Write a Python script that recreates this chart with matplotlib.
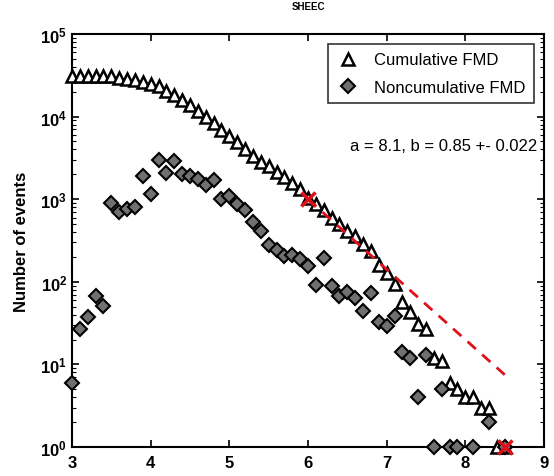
import matplotlib
matplotlib.use("Agg")
import matplotlib.pyplot as plt
from matplotlib.ticker import LogLocator, NullFormatter

plt.rcParams["font.family"] = ["Liberation Sans", "DejaVu Sans"]
plt.rcParams["font.weight"] = "bold"
plt.rcParams["mathtext.fontset"] = "custom"
plt.rcParams["mathtext.rm"] = "Liberation Sans:bold"
plt.rcParams["mathtext.bf"] = "Liberation Sans:bold"
plt.rcParams["mathtext.it"] = "Liberation Sans:bold"

# Dados
mag_cum = [3.0, 3.1, 3.2, 3.3, 3.4, 3.5, 3.6, 3.7, 3.8, 3.9,
           4.0, 4.1, 4.2, 4.3, 4.4, 4.5, 4.6, 4.7, 4.8, 4.9,
           5.0, 5.1, 5.2, 5.3, 5.4, 5.5, 5.6, 5.7, 5.8, 5.9,
           6.0, 6.1, 6.2, 6.3, 6.4, 6.5, 6.6, 6.7, 6.8, 6.9,
           7.0, 7.1, 7.2, 7.3, 7.4, 7.5, 7.6, 7.7, 7.8, 7.9,
           8.0, 8.1, 8.2, 8.3, 8.4, 8.5]
n_cum = [31000, 31000, 30900, 30900, 30800, 30700, 29400, 28500, 27600, 26300,
         24700, 23300, 20400, 18300, 15900, 13800, 11700, 10000, 8400, 6900,
         5800, 4900, 4100, 3300, 2800, 2500, 2140, 1850, 1580, 1330,
         1030, 870, 740, 600, 500, 410, 360, 290, 235, 160,
         128, 94, 57, 43, 31, 27, 12, 11, 6, 5,
         4, 4, 3, 3, 1, 1]

mag_non = [3.0, 3.1, 3.2, 3.3, 3.4, 3.5, 3.6, 3.7, 3.8, 3.9,
           4.0, 4.1, 4.2, 4.3, 4.4, 4.5, 4.6, 4.7, 4.8, 4.9,
           5.0, 5.1, 5.2, 5.3, 5.4, 5.5, 5.6, 5.7, 5.8, 5.9,
           6.0, 6.1, 6.2, 6.3, 6.4, 6.5, 6.6, 6.7, 6.8, 6.9,
           7.0, 7.1, 7.2, 7.3, 7.4, 7.5, 7.6, 7.7, 7.8, 7.9,
           8.1, 8.3, 8.5]
n_non = [6, 27, 37, 67, 51, 900, 700, 760, 810, 1900,
         1150, 2950, 2100, 2900, 2000, 1900, 1750, 1480, 1700, 1000,
         1090, 870, 740, 530, 410, 280, 245, 205, 210, 190,
         155, 91, 195, 89, 67, 75, 63, 44, 73, 33,
         29, 39, 14, 12, 4, 13, 1, 5, 1, 1,
         1, 2, 1]

# Reta do ajuste (extremos) e marcas em vermelho
fit_m = [6.0, 8.5]
fit_n = [1000, 7.5]
marca_m = [6.0, 8.5]
marca_n = [1000, 1]

fig = plt.figure(figsize=(5.54, 4.77), dpi=100)
ax = fig.add_axes([0.130, 0.0608, 0.852, 0.8658])

ax.semilogy(mag_cum, n_cum, linestyle="none", marker="^", markersize=8.5,
            markerfacecolor="white", markeredgecolor="black", markeredgewidth=1.8,
            label="Cumulative FMD", clip_on=False, zorder=3)
ax.semilogy(mag_non, n_non, linestyle="none", marker="D", markersize=7.5,
            markerfacecolor="#707070", markeredgecolor="black", markeredgewidth=1.5,
            label="Noncumulative FMD", clip_on=False, zorder=3)
ax.plot(fit_m, fit_n, color="#e0101a", linestyle=(0, (4, 3)), linewidth=2, zorder=4)
ax.plot(marca_m, marca_n, linestyle="none", marker="x", markersize=10,
        markeredgewidth=2.5, color="#e0101a", clip_on=False, zorder=5)

ax.set_xlim(3, 9)
ax.set_ylim(1, 1e5)
ax.set_xticks([3, 4, 5, 6, 7, 8, 9])
ax.yaxis.set_major_locator(LogLocator(base=10, numticks=10))
ax.yaxis.set_minor_locator(LogLocator(base=10, subs=range(2, 10), numticks=10))
ax.yaxis.set_minor_formatter(NullFormatter())
ax.tick_params(which="both", direction="in", top=True, right=True, labelsize=12)
ax.tick_params(which="major", length=5, width=1.2)
ax.tick_params(which="minor", length=3, width=0.8)
ax.tick_params(axis="x", pad=6)
for s in ax.spines.values():
    s.set_linewidth(1.5)

ax.set_ylabel("Number of events", fontsize=12, fontweight="bold", labelpad=8)
ax.set_title("SHEEC", fontsize=7, fontweight="bold", pad=18)

leg = ax.legend(loc="upper right", fontsize=12, frameon=True, fancybox=False,
                edgecolor="black", borderpad=0.5, handlelength=1.5,
                handletextpad=0.8, borderaxespad=0.6, labelspacing=0.75)
leg.get_frame().set_linewidth(1.2)
for t in leg.get_texts():
    t.set_fontweight("normal")

ax.text(0.985, 0.73, "a = 8.1, b = 0.85 +- 0.022", transform=ax.transAxes,
        ha="right", va="center", fontsize=12, fontweight="normal")

fig.savefig("out.png", dpi=100)
